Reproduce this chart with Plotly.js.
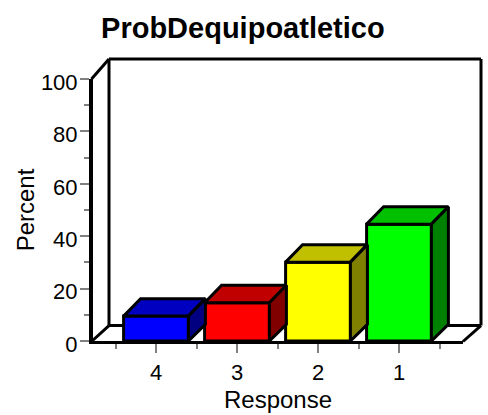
<!DOCTYPE html>
<html><head><meta charset="utf-8">
<script src="https://cdn.plot.ly/plotly-3.0.1.min.js"></script>
<style>html,body{margin:0;padding:0;background:#fff}</style></head>
<body><div id="chart" style="width:488px;height:415px"></div>
<script>
const categories = ['4','3','2','1'];
const percents = [9.5, 14.6, 30.1, 44.6];
const frontColors = ['#0000ff','#ff0000','#ffff00','#00ff00'];
const topColors = ['#0000c0','#c00000','#c0c000','#00c000'];
const sideColors = ['#000080','#800000','#808000','#008000'];
const yTicks = [0,20,40,60,80,100];
const yMinor = [10,30,50,70,90];
const xMinor = [-0.5,0.5,1.5,2.5,3.5];

const L=93,R=463,T=79,B=341.5,W=488,H=415;
const xMin=(L-156)/81, xMax=(R-156)/81;
const barW=0.8, depthX=17/81, depthY=17.5/((B-T)/100);
const positions = categories.map((c,i)=>i);

const traces=[{type:'bar',x:positions,y:percents,width:barW,
  marker:{color:frontColors,line:{color:'#000',width:3}},hoverinfo:'x+y',showlegend:false}];
positions.forEach((p,i)=>{
  const v=percents[i],a=p-barW/2,b=p+barW/2;
  traces.push({type:'scatter',mode:'lines',x:[a,b,b+depthX,a+depthX,a],y:[v,v,v+depthY,v+depthY,v],
    fill:'toself',fillcolor:topColors[i],line:{color:'#000',width:3},hoverinfo:'skip',showlegend:false,cliponaxis:false});
  traces.push({type:'scatter',mode:'lines',x:[b,b+depthX,b+depthX,b,b],y:[0,depthY*0.95,v+depthY,v,0],
    fill:'toself',fillcolor:sideColors[i],line:{color:'#000',width:3},hoverinfo:'skip',showlegend:false,cliponaxis:false});
});
const px=x=>(x-L)/(R-L), py=y=>(B-y)/(B-T);
const seg=(x0,y0,x1,y1)=>({type:'line',xref:'paper',yref:'paper',layer:'below',
  x0:px(x0),y0:py(y0),x1:px(x1),y1:py(y1),line:{color:'#000',width:3}});
const shapes=[seg(91.5,79,109,59),seg(109,59,481,59),seg(481,59,481,326),seg(109,59,109,326),
  seg(109,326,481,326),seg(91.5,342,109,326),seg(463,342,481,326)];
const font='"Liberation Sans", Arial, sans-serif';
Plotly.newPlot('chart',traces,{
  width:W,height:H,paper_bgcolor:'#fff',plot_bgcolor:'rgba(0,0,0,0)',showlegend:false,
  margin:{l:L,r:W-R,t:T,b:H-B,pad:0},shapes:shapes,bargap:0.2,
  title:{text:'<b>ProbDequipoatletico</b>',font:{family:font,size:29,color:'#000'},xref:'paper',x:0.405,xanchor:'center',yref:'container',y:1-28/H,yanchor:'middle'},
  xaxis:{type:'linear',range:[xMin,xMax],tickmode:'array',tickvals:positions,ticktext:categories,
    ticks:'outside',ticklen:9,tickwidth:2,tickcolor:'#808080',showgrid:false,zeroline:false,ticklabelstandoff:1,
    showline:true,linewidth:3,linecolor:'#000',tickfont:{family:font,size:22,color:'#000'},
    minor:{tickmode:'array',tickvals:xMinor,ticks:'outside',ticklen:5,tickwidth:2,tickcolor:'#808080',showgrid:false},
    title:{text:'Response',font:{family:font,size:24,color:'#000'},standoff:7}},
  yaxis:{range:[0,100],tickmode:'array',tickvals:yTicks,ticks:'outside',ticklen:9,tickwidth:2,tickcolor:'#808080',
    ticklabelshift:3,ticklabelstandoff:-2,
    showgrid:false,zeroline:false,showline:true,linewidth:4,linecolor:'#000',tickfont:{family:font,size:22,color:'#000'},
    minor:{tickmode:'array',tickvals:yMinor,ticks:'outside',ticklen:5,tickwidth:2,tickcolor:'#808080',showgrid:false},
    title:{text:'Percent',font:{family:font,size:24,color:'#000'},standoff:0}}
},{displayModeBar:false,staticPlot:true});
</script></body></html>
